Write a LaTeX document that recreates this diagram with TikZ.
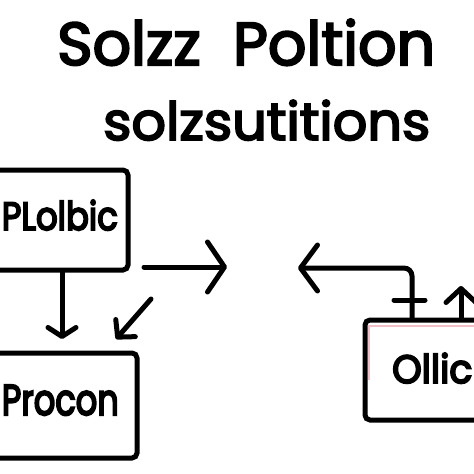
\documentclass[tikz,border=0pt]{standalone}
\usepackage{fontspec}
\setmainfont{Poppins}[FakeBold=3.5]
\newfontfamily\boxfont{Poppins}[FakeBold=5]
\usetikzlibrary{arrows.meta}
\tikzset{
  boxstyle/.style={draw=black, line width=5pt, rounded corners=5pt, inner sep=0pt},
  labelstyle/.style={inner sep=0pt, text=black},
  conn/.style={line width=5pt, line cap=round, line join=round, draw=black},
}
\begin{document}
\begin{tikzpicture}[x=1pt,y=-1pt]
\useasboundingbox (0,0) rectangle (474,474);
\fill[white] (0,0) rectangle (474,474);
% title
\node[labelstyle, anchor=base west] (t1) at (57,65) {\resizebox{378pt}{46pt}{Solzz\ \ Poltion}};
\node[labelstyle, anchor=base west] (t2) at (103,140) {\resizebox{327pt}{40pt}{solzsutitions}};
% boxes
\node[boxstyle, minimum width=148pt, minimum height=100pt] (b1) at (54,220) {};
\node[boxstyle, minimum width=157pt, minimum height=105pt] (b2) at (58.5,405.5) {};
\node[boxstyle, minimum width=130pt, minimum height=100pt] (b3) at (430,370) {};
\draw[draw={rgb,255:red,244;green,190;blue,200}, line width=1.5pt] (369,380) -- (369,326) -- (474,326);
% box labels
\node[labelstyle, anchor=base east] (l1) at (118,230) {\resizebox{116pt}{30pt}{\boxfont PLolbic}};
\node[labelstyle, anchor=base east] (l2) at (119,415) {\resizebox{117pt}{30pt}{\boxfont Procon}};
\node[labelstyle, anchor=base west] (l3) at (392,383) {\resizebox{80pt}{30pt}{\boxfont Ollic}};
% connector endpoints
\coordinate (d1s) at (62,272);
\coordinate (d1e) at (62,339);
\coordinate (g1s) at (151,299);
\coordinate (g1e) at (116,339);
\coordinate (r1s) at (144,267);
\coordinate (r1e) at (227,267);
\coordinate (l4s) at (412,318);
\coordinate (l4e) at (298,268);
\coordinate (u1s) at (461,318);
\coordinate (u1e) at (461,286);
\coordinate (x1a) at (394,300);
\coordinate (x1b) at (425,300);
% connectors
\draw[conn, -{Straight Barb[length=9pt,width=28pt,round]}] (d1s) -- (d1e);
\draw[conn, -{Straight Barb[length=12pt,width=26pt,round]}] (g1s) -- (g1e);
\draw[conn, -{Straight Barb[length=17pt,width=50pt,round]}] (r1s) -- (r1e);
\draw[conn, rounded corners=8pt, -{Straight Barb[length=17pt,width=46pt,round]}] (l4s) |- (l4e);
\draw[conn, -{Straight Barb[length=14pt,width=30pt,round]}] (u1s) -- (u1e);
\draw[conn] (x1a) -- (x1b);
\end{tikzpicture}
\end{document}
